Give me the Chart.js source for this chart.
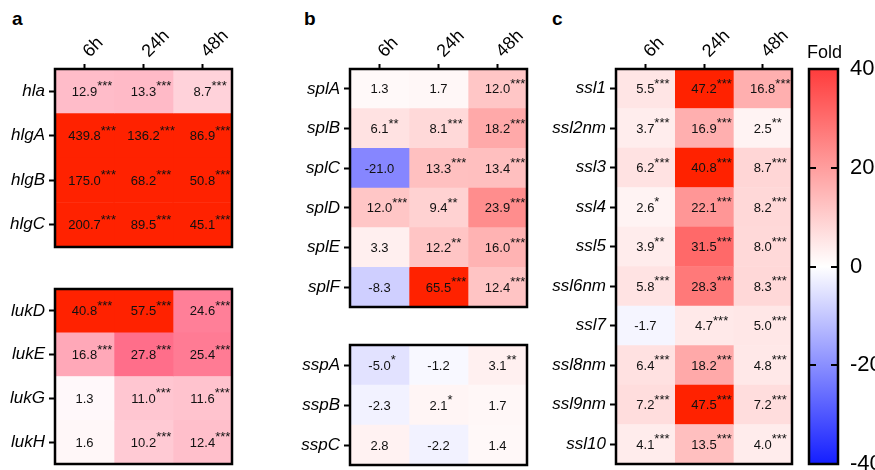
<!DOCTYPE html>
<html>
<head>
<meta charset="utf-8">
<script src="https://cdn.jsdelivr.net/npm/chart.js@4.4.0/dist/chart.umd.min.js"></script>
<style>
html, body { margin: 0; padding: 0; width: 875px; height: 470px; overflow: hidden; background: #fff; }
canvas { position: absolute; }
.panel { position: absolute; font: bold 19px "Liberation Sans", Arial, sans-serif; color: #000; }
</style>
</head>
<body>
<div class="panel" style="left:12px;top:8px">a</div>
<div class="panel" style="left:304px;top:8px">b</div>
<div class="panel" style="left:552px;top:8px">c</div>
<canvas id="a1"></canvas>
<canvas id="a2"></canvas>
<canvas id="b1"></canvas>
<canvas id="b2"></canvas>
<canvas id="c1"></canvas>
<canvas id="bar"></canvas>
<script>
const times = ['6h', '24h', '48h'];

const genesA1 = ['hla', 'hlgA', 'hlgB', 'hlgC'];
const foldA1 = [[12.9, 13.3, 8.7], [439.8, 136.2, 86.9], [175.0, 68.2, 50.8], [200.7, 89.5, 45.1]];
const sigA1 = [['***', '***', '***'], ['***', '***', '***'], ['***', '***', '***'], ['***', '***', '***']];

const genesA2 = ['lukD', 'lukE', 'lukG', 'lukH'];
const foldA2 = [[40.8, 57.5, 24.6], [16.8, 27.8, 25.4], [1.3, 11.0, 11.6], [1.6, 10.2, 12.4]];
const sigA2 = [['***', '***', '***'], ['***', '***', '***'], ['', '***', '***'], ['', '***', '***']];

const genesB1 = ['splA', 'splB', 'splC', 'splD', 'splE', 'splF'];
const foldB1 = [[1.3, 1.7, 12.0], [6.1, 8.1, 18.2], [-21.0, 13.3, 13.4], [12.0, 9.4, 23.9], [3.3, 12.2, 16.0], [-8.3, 65.5, 12.4]];
const sigB1 = [['', '', '***'], ['**', '***', '***'], ['', '***', '***'], ['***', '**', '***'], ['', '**', '***'], ['', '***', '***']];

const genesB2 = ['sspA', 'sspB', 'sspC'];
const foldB2 = [[-5.0, -1.2, 3.1], [-2.3, 2.1, 1.7], [2.8, -2.2, 1.4]];
const sigB2 = [['*', '', '**'], ['', '*', ''], ['', '', '']];

const genesC = ['ssl1', 'ssl2nm', 'ssl3', 'ssl4', 'ssl5', 'ssl6nm', 'ssl7', 'ssl8nm', 'ssl9nm', 'ssl10'];
const foldC = [[5.5, 47.2, 16.8], [3.7, 16.9, 2.5], [6.2, 40.8, 8.7], [2.6, 22.1, 8.2], [3.9, 31.5, 8.0],
               [5.8, 28.3, 8.3], [-1.7, 4.7, 5.0], [6.4, 18.2, 4.8], [7.2, 47.5, 7.2], [4.1, 13.5, 4.0]];
const sigC = [['***', '***', '***'], ['***', '***', '**'], ['***', '***', '***'], ['*', '***', '***'], ['**', '***', '***'],
              ['***', '***', '***'], ['', '***', '***'], ['***', '***', '***'], ['***', '***', '***'], ['***', '***', '***']];

const foldTicks = [-40, -20, 0, 20, 40];

const FONT = '"Liberation Sans", Arial, sans-serif';

// colour scales, clipped at +-40
function redScale(v) {
    if (v >= 40) return 'rgb(255,34,0)';
    if (v <= -40) return 'rgb(20,30,255)';
    const t = Math.abs(v) / 40;
    if (v >= 0) {
        const g = Math.round(255 - 190 * t);
        return `rgb(255,${g},${g})`;
    }
    const c = Math.round(255 - 230 * t);
    return `rgb(${c},${c},255)`;
}

function pinkScale(v) {
    if (v >= 40) return 'rgb(255,34,0)';
    if (v < 0) return redScale(v);
    const t = v / 40;
    return `rgb(255,${Math.round(255 - 208 * t)},${Math.round(255 - 168 * t)})`;
}

const cellText = {
    id: 'cellText',
    afterDatasetsDraw(chart, args, opts) {
        const ctx = chart.ctx;
        ctx.save();
        ctx.fillStyle = '#111';
        chart.data.datasets.forEach((ds, j) => {
            chart.getDatasetMeta(j).data.forEach((bar, i) => {
                const cx = (bar.x + bar.base) / 2;
                const cy = bar.y;
                const txt = opts.fold[i][j].toFixed(1);
                ctx.font = '13px ' + FONT;
                ctx.textAlign = 'center';
                ctx.textBaseline = 'alphabetic';
                ctx.fillText(txt, cx, cy + 4.5);
                const s = opts.sig[i][j];
                if (s) {
                    const w = ctx.measureText(txt).width;
                    ctx.textAlign = 'left';
                    ctx.fillText(s, cx + w / 2, cy - 1);
                }
            });
        });
        const a = chart.chartArea;
        ctx.strokeStyle = '#000';
        ctx.lineWidth = 2.5;
        ctx.strokeRect(a.left, a.top, a.right - a.left, a.bottom - a.top);
        ctx.restore();
    }
};

function makeBlock(id, bx, by, bw, bh, yW, showTop, genes, fold, sig, scale) {
    const m = 12;
    const topH = showTop ? 62 : m;
    const el = document.getElementById(id);
    el.width = yW + bw + m;
    el.height = topH + bh + m;
    el.style.left = (bx - yW) + 'px';
    el.style.top = (by - topH) + 'px';

    const datasets = times.map((t, j) => ({
        label: t,
        data: genes.map(() => 1),
        backgroundColor: fold.map(r => scale(r[j])),
        borderWidth: 0,
        barPercentage: 1,
        categoryPercentage: 1
    }));

    return new Chart(el, {
        type: 'bar',
        data: { labels: genes, datasets: datasets },
        options: {
            indexAxis: 'y',
            responsive: false,
            animation: false,
            events: [],
            layout: { padding: { left: 0, right: m, top: showTop ? 0 : m, bottom: m } },
            plugins: {
                legend: { display: false },
                tooltip: { enabled: false },
                cellText: { fold: fold, sig: sig }
            },
            scales: {
                x: {
                    type: 'linear',
                    position: 'top',
                    stacked: true,
                    min: 0,
                    max: 3,
                    display: showTop,
                    afterBuildTicks: s => { s.ticks = times.map((t, i) => ({ value: i + 0.5 })); },
                    afterFit: s => {
                        s.height = showTop ? topH : 0;
                        s.paddingLeft = 0;
                        s.paddingRight = 0;
                    },
                    ticks: {
                        autoSkip: false,
                        minRotation: 45,
                        maxRotation: 45,
                        padding: 2,
                        labelOffset: 17,
                        color: '#000',
                        font: { family: FONT, size: 18 },
                        callback: (v, i) => times[i]
                    },
                    grid: { drawOnChartArea: false, tickLength: 5, tickWidth: 2, tickColor: '#000' },
                    border: { display: false }
                },
                y: {
                    stacked: true,
                    afterFit: s => { s.width = yW; s.paddingTop = 0; s.paddingBottom = 0; },
                    ticks: {
                        padding: 4,
                        color: '#000',
                        font: { family: FONT, size: 17, style: 'italic' }
                    },
                    grid: { drawOnChartArea: false, offset: false, tickLength: 6, tickWidth: 2, tickColor: '#000' },
                    border: { display: false }
                }
            }
        },
        plugins: [cellText]
    });
}

makeBlock('a1', 55, 69, 177, 178, 55, true, genesA1, foldA1, sigA1, pinkScale);
makeBlock('a2', 55, 289, 177, 175, 55, false, genesA2, foldA2, sigA2, pinkScale);
makeBlock('b1', 350, 69, 177, 238, 70, true, genesB1, foldB1, sigB1, redScale);
makeBlock('b2', 350, 345, 177, 120, 70, false, genesB2, foldB2, sigB2, redScale);
makeBlock('c1', 616, 69, 176, 395, 80, true, genesC, foldC, sigC, redScale);

// colour bar
const barFrame = {
    id: 'barFrame',
    afterDatasetsDraw(chart) {
        const ctx = chart.ctx;
        const a = chart.chartArea;
        const y = chart.scales.y;
        ctx.save();
        ctx.strokeStyle = '#000';
        ctx.lineWidth = 2;
        foldTicks.slice(1, -1).forEach(v => {
            const py = Math.round(y.getPixelForValue(v));
            ctx.beginPath();
            ctx.moveTo(a.left, py); ctx.lineTo(a.left + 7, py);
            ctx.moveTo(a.right - 7, py); ctx.lineTo(a.right, py);
            ctx.stroke();
        });
        ctx.lineWidth = 2.5;
        ctx.strokeRect(a.left, a.top, a.right - a.left, a.bottom - a.top);
        ctx.fillStyle = '#000';
        ctx.font = '18px ' + FONT;
        ctx.textAlign = 'center';
        ctx.textBaseline = 'alphabetic';
        ctx.fillText('Fold', (a.left + a.right) / 2 + 1, a.top - 11);
        ctx.restore();
    }
};

const barEl = document.getElementById('bar');
barEl.width = 100;
barEl.height = 460;
barEl.style.left = '800px';
barEl.style.top = '30px';

new Chart(barEl, {
    type: 'bar',
    data: {
        labels: ['Fold'],
        datasets: [{
            data: [[foldTicks[0], foldTicks[foldTicks.length - 1]]],
            backgroundColor: c => {
                const a = c.chart.chartArea;
                if (!a) return null;
                const g = c.chart.ctx.createLinearGradient(0, a.bottom, 0, a.top);
                g.addColorStop(0, 'rgb(20,30,255)');
                g.addColorStop(0.5, '#ffffff');
                g.addColorStop(1, 'rgb(255,60,60)');
                return g;
            },
            borderWidth: 0,
            barPercentage: 1,
            categoryPercentage: 1
        }]
    },
    options: {
        responsive: false,
        animation: false,
        events: [],
        layout: { padding: { left: 9, top: 39, bottom: 26, right: 0 } },
        plugins: { legend: { display: false }, tooltip: { enabled: false } },
        scales: {
            x: { display: false },
            y: {
                position: 'right',
                min: foldTicks[0],
                max: foldTicks[foldTicks.length - 1],
                afterFit: s => { s.width = 62; s.paddingTop = 0; s.paddingBottom = 0; },
                ticks: { stepSize: 20, padding: 4, color: '#000', font: { family: FONT, size: 22 } },
                grid: { display: false },
                border: { display: false }
            }
        }
    },
    plugins: [barFrame]
});
</script>
</body>
</html>
